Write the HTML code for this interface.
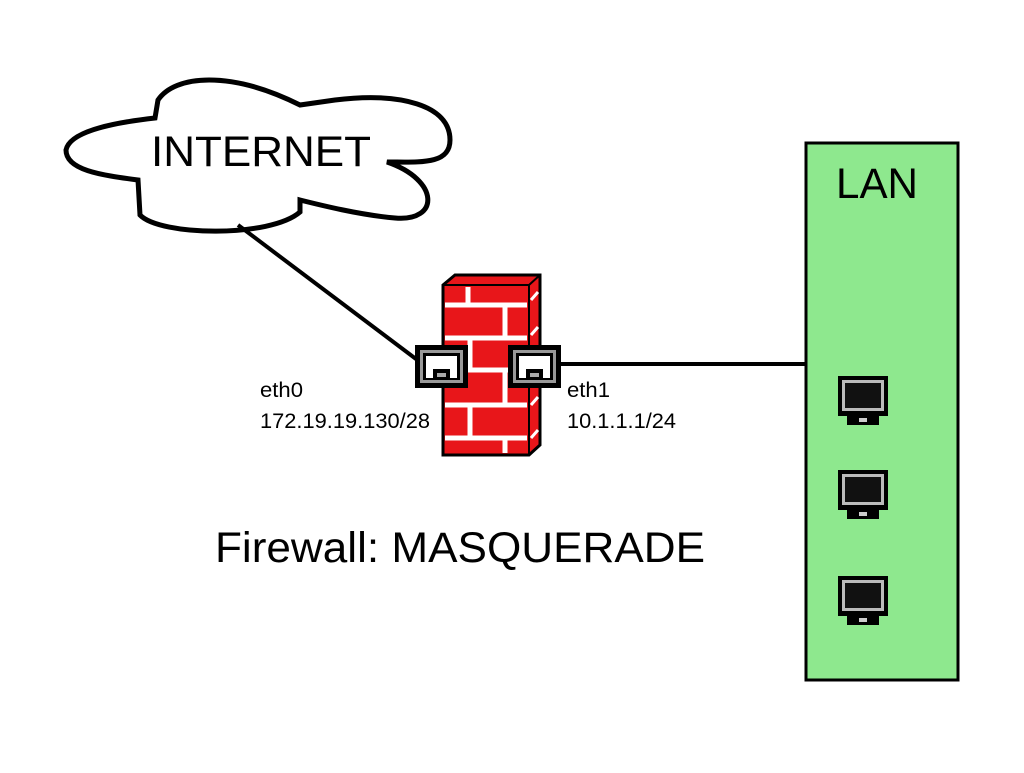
<!DOCTYPE html>
<html><head><style>body{margin:0;background:#fff}text{font-family:"Liberation Sans",sans-serif}</style></head><body>
<svg width="1024" height="768" xmlns="http://www.w3.org/2000/svg">
<defs>
<g id="mon">
<rect x="0" y="0" width="50" height="40" fill="#000"/>
<rect x="4" y="4" width="42" height="31" fill="#bbb"/>
<rect x="7" y="7" width="36" height="25" fill="#111"/>
<rect x="9" y="40" width="32" height="9" fill="#000"/>
<rect x="21" y="42" width="8" height="4" fill="#ccc"/>
</g>
<g id="nic">
<rect x="0" y="0" width="53" height="43" fill="#000"/>
<rect x="5" y="5" width="43" height="33" fill="#999"/>
<rect x="8" y="8" width="37" height="27" fill="#000"/>
<rect x="11" y="11" width="31" height="22" fill="#fff"/>
<rect x="18" y="24" width="17" height="9" fill="#000"/>
<rect x="22" y="28" width="9" height="4" fill="#aaa"/>
</g>
</defs>
<path d="M66,150 C70,130 120,122 155,118 L158,100 C175,75 230,70 300,105 L335,100 C400,92 450,105 450,140 C450,165 420,162 387,162 C440,180 440,222 395,218 C360,215 320,205 300,200 L300,212 C270,238 160,236 140,215 L138,180 C100,175 66,170 66,150 Z" fill="#fff" stroke="#000" stroke-width="5"/>
<text x="151" y="166" font-size="43" textLength="220" lengthAdjust="spacingAndGlyphs">INTERNET</text>
<line x1="238" y1="225" x2="420" y2="362" stroke="#000" stroke-width="4"/>
<line x1="558" y1="364" x2="808" y2="364" stroke="#000" stroke-width="4"/>
<rect x="806" y="143" width="152" height="537" fill="#8ee88e" stroke="#000" stroke-width="3"/>
<text x="836" y="198" font-size="43" textLength="82" lengthAdjust="spacingAndGlyphs">LAN</text>
<use href="#mon" x="838" y="376"/>
<use href="#mon" x="838" y="470"/>
<use href="#mon" x="838" y="576"/>
<path d="M443,285 L455,275 L540,275 L540,445 L529,455 L443,455 Z" fill="#e8161a" stroke="#000" stroke-width="3"/>
<line x1="529" y1="285" x2="529" y2="455" stroke="#000" stroke-width="2"/>
<line x1="443" y1="285" x2="529" y2="285" stroke="#000" stroke-width="2"/>
<line x1="529" y1="285" x2="540" y2="275" stroke="#000" stroke-width="2"/>
<g stroke="#fff" stroke-width="5">
<line x1="445" y1="305" x2="527" y2="305"/><line x1="445" y1="338" x2="527" y2="338"/>
<line x1="445" y1="370" x2="527" y2="370"/><line x1="445" y1="405" x2="527" y2="405"/>
<line x1="445" y1="438" x2="527" y2="438"/>
<line x1="468" y1="287" x2="468" y2="305"/><line x1="505" y1="305" x2="505" y2="338"/>
<line x1="470" y1="338" x2="470" y2="370"/><line x1="505" y1="370" x2="505" y2="405"/>
<line x1="470" y1="405" x2="470" y2="438"/><line x1="505" y1="438" x2="505" y2="453"/>
</g>
<g stroke="#fff" stroke-width="3">
<line x1="531" y1="300" x2="538" y2="292"/><line x1="531" y1="335" x2="538" y2="327"/>
<line x1="531" y1="370" x2="538" y2="362"/><line x1="531" y1="405" x2="538" y2="397"/>
<line x1="531" y1="438" x2="538" y2="430"/>
</g>
<use href="#nic" x="415" y="345"/>
<use href="#nic" x="508" y="345"/>
<text x="260" y="397" font-size="21" textLength="43" lengthAdjust="spacingAndGlyphs">eth0</text>
<text x="260" y="428" font-size="21" textLength="170" lengthAdjust="spacingAndGlyphs">172.19.19.130/28</text>
<text x="567" y="397" font-size="21" textLength="43" lengthAdjust="spacingAndGlyphs">eth1</text>
<text x="567" y="428" font-size="21" textLength="109" lengthAdjust="spacingAndGlyphs">10.1.1.1/24</text>
<text x="215" y="562" font-size="43" textLength="490" lengthAdjust="spacingAndGlyphs">Firewall: MASQUERADE</text>
</svg>
</body></html>
